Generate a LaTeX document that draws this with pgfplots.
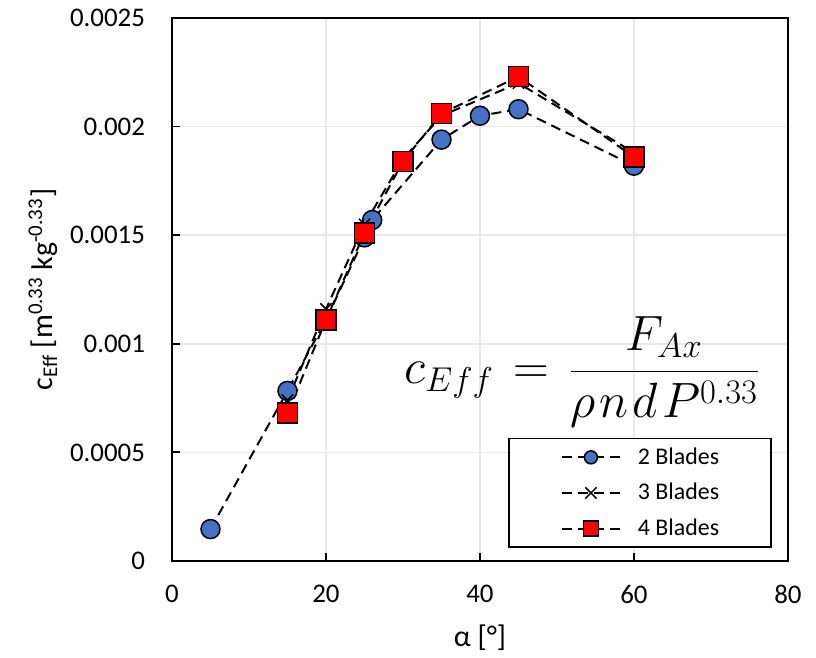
\documentclass[border=0pt]{standalone}
\usepackage{pgfplots}
\pgfplotsset{compat=1.18}
\usepackage{fontspec}
\setmainfont{Carlito}
\definecolor{xlblue}{HTML}{4472C4}
\definecolor{gridgray}{HTML}{E8E8E8}
\pgfplotsset{myleg/.style={legend image code/.code={\draw[mark repeat=2,mark phase=2,##1,mark size=#1] plot coordinates {(0bp,0bp) (14.5bp,0bp) (29bp,0bp)};}}}
\begin{document}
\begin{tikzpicture}
\begin{axis}[
  scale only axis, width=308bp, height=271.5bp,
  xmin=0, xmax=80, ymin=0, ymax=0.0025,
  xtick={0,20,40,60,80}, xticklabels={0,20,40,60,80},
  ytick={0,0.0005,0.001,0.0015,0.002,0.0025},
  yticklabels={0,0.0005,0.001,0.0015,0.002,0.0025},
  scaled y ticks=false,
  tick align=inside, tick pos=left, major tick length=4bp,
  tick style={black, line width=0.9bp},
  axis line style={black, line width=1bp},
  grid=major, grid style={gridgray, line width=0.75bp},
  ticklabel style={font=\fontsize{13.5}{16}\selectfont},
  yticklabel style={xshift=-10bp},
  xticklabel style={yshift=-8.5bp},
  xlabel={α [°]},
  ylabel={c\textsubscript{Eff} [m\textsuperscript{0.33} kg\textsuperscript{-0.33}]},
  label style={font=\fontsize{15}{18}\selectfont},
  xlabel style={at={(axis description cs:0.5,-0.105)}, anchor=north},
  ylabel style={at={(axis description cs:-0.2094,0.5)}, anchor=center},
  legend cell align=left,
  legend style={draw=black, line width=0.75bp,
    at={(axis description cs:0.974,0.024)}, anchor=south east,
    inner xsep=26bp, inner ysep=4.45bp, row sep=8bp,
    font=\fontsize{12}{14}\selectfont,
    nodes={inner sep=0pt, text depth=0.15em},
    /tikz/every odd column/.append style={column sep=8.5bp}},
]
\addplot[black, line width=1bp, dash pattern=on 5bp off 3bp,
  mark=*, mark size=4.75bp,
  mark options={solid, fill=xlblue, draw=black, line width=0.75bp},
  myleg=3.25bp]
  coordinates {(5,0.000147) (15,0.000783) (20,0.00111) (25,0.00149) (26,0.00157) (35,0.00194) (40,0.00205) (45,0.00208) (60,0.00182)};
\addlegendentry{2 Blades}
\addplot[black, line width=1bp, dash pattern=on 5bp off 3bp,
  mark=x, mark size=4bp,
  mark options={solid, draw=black, line width=0.75bp},
  myleg=4bp]
  coordinates {(15,0.00074) (20,0.00116) (25,0.00155) (30,0.00185) (35,0.00205) (45,0.00220) (60,0.00188)};
\addlegendentry{3 Blades}
\addplot[black, line width=1bp, dash pattern=on 5bp off 3bp,
  mark=square*, mark size=5bp,
  mark options={solid, fill=red, draw=black, line width=0.75bp},
  myleg=3.75bp]
  coordinates {(15,0.000681) (20,0.00111) (25,0.00151) (30,0.00184) (35,0.00206) (45,0.00223) (60,0.00186)};
\addlegendentry{4 Blades}
\node at (axis cs:53.3,0.00087) {\fontsize{24.5}{30}\selectfont $\displaystyle c_{Eff} \mkern2mu=\mkern2mu \frac{F_{Ax}}{\rho\mkern1.5mu n\mkern1.5mu d\mkern1.5mu P^{0.33}}$};
\end{axis}
\pgfresetboundingbox
\path (-86bp,-48.5bp) rectangle (322bp,280.5bp);
\end{tikzpicture}
\end{document}
